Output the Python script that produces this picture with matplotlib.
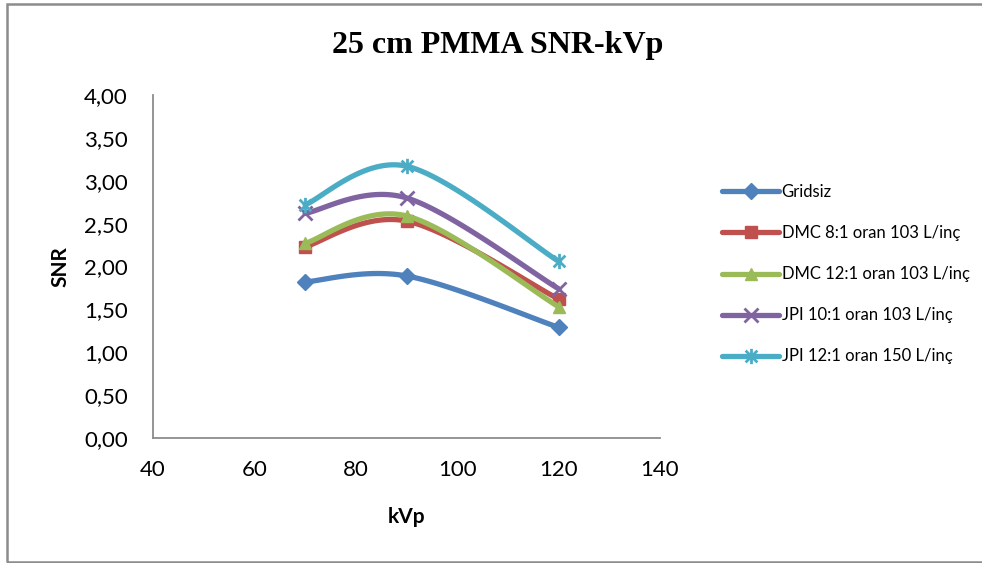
import numpy as np
import matplotlib
matplotlib.use("Agg")
import matplotlib.pyplot as plt
from matplotlib.path import Path
from matplotlib.patches import Rectangle

# Measurements: SNR against tube voltage for a 25 cm PMMA phantom
kvp = [70, 90, 120]
gridsiz = [1.82, 1.89, 1.29]
dmc_8 = [2.23, 2.53, 1.62]
dmc_12 = [2.27, 2.59, 1.53]
jpi_10 = [2.62, 2.80, 1.74]
jpi_12 = [2.72, 3.17, 2.06]

series_labels = ["Gridsiz", "DMC 8:1 oran 103 L/inç", "DMC 12:1 oran 103 L/inç",
                 "JPI 10:1 oran 103 L/inç", "JPI 12:1 oran 150 L/inç"]
x_ticks = [40, 60, 80, 100, 120, 140]
y_ticks = [0.0, 0.5, 1.0, 1.5, 2.0, 2.5, 3.0, 3.5, 4.0]

colors = ["#4F81BD", "#C0504D", "#9BBB59", "#8064A2", "#4BACC6"]

# asterisk marker: an X crossed by a vertical bar
star_path = Path([(-1, -1), (1, 1), (-1, 1), (1, -1), (0, -1.3), (0, 1.3)],
                 [Path.MOVETO, Path.LINETO, Path.MOVETO, Path.LINETO,
                  Path.MOVETO, Path.LINETO])
markers = ["D", "s", "^", "x", star_path]
msizes = [8, 9, 9, 10, 11]


def smooth(xs, ys, n=40):
    """Cardinal (Catmull-Rom) Bezier smoothing through every point."""
    pts = np.column_stack([xs, ys]).astype(float)
    ext = np.vstack([pts[0], pts, pts[-1]])
    out = []
    idx = [0]
    for i in range(len(pts) - 1):
        p0, p1, p2, p3 = ext[i], ext[i + 1], ext[i + 2], ext[i + 3]
        c1 = p1 + (p2 - p0) / 6.0
        c2 = p2 - (p3 - p1) / 6.0
        t = np.linspace(0, 1, n)[:, None]
        seg = ((1 - t) ** 3) * p1 + 3 * ((1 - t) ** 2) * t * c1 + 3 * (1 - t) * t ** 2 * c2 + t ** 3 * p2
        if i > 0:
            seg = seg[1:]
        out.append(seg)
        idx.append(idx[-1] + len(seg) - (0 if i > 0 else 1))
    curve = np.vstack(out)
    return curve[:, 0], curve[:, 1], idx


plt.rcParams["font.family"] = ["Lato", "DejaVu Sans"]

fig = plt.figure(figsize=(9.82, 5.63), dpi=100)
ax = fig.add_axes([153 / 982, 1 - 438 / 563, (660 - 153) / 982, (438 - 95) / 563])

all_series = [gridsiz, dmc_8, dmc_12, jpi_10, jpi_12]
for vals, lab, col, mk, ms in zip(all_series, series_labels, colors, markers, msizes):
    sx, sy, idx = smooth(kvp, vals)
    mew = 2.0 if mk in ("x",) or mk is star_path else 1.0
    ax.plot(sx, sy, color=col, lw=3.8, label=lab, marker=mk, markevery=idx,
            markersize=ms, markerfacecolor=col, markeredgecolor=col,
            markeredgewidth=mew, solid_capstyle="round", clip_on=False)

ax.set_xlim(40, 140)
ax.set_ylim(0, 4)
ax.set_xticks(x_ticks)
ax.set_yticks(y_ticks)
ax.set_yticklabels([f"{v:.2f}".replace(".", ",") for v in y_ticks])
ax.tick_params(length=0, labelsize=16)
ax.tick_params(axis="y", pad=18)
ax.tick_params(axis="x", pad=16)
for s in ("top", "right"):
    ax.spines[s].set_visible(False)
for s in ("left", "bottom"):
    ax.spines[s].set_color("#8c8c8c")
    ax.spines[s].set_linewidth(1.3)

ax.set_xlabel("kVp", fontsize=15, fontweight="bold", labelpad=19)
ax.set_ylabel("SNR", fontsize=15, fontweight="bold", labelpad=10)

fig.text(498 / 982, 1 - 45 / 563, "25 cm PMMA SNR-kVp", ha="center", va="center",
         fontsize=23, fontweight="bold", family="Liberation Serif")

handles, labels = ax.get_legend_handles_labels()
leg = fig.legend(handles, labels, loc="upper left",
                 bbox_to_anchor=(714 / 982, 1 - 176 / 563), frameon=False,
                 fontsize=12, numpoints=1, handlelength=3.4, handletextpad=0.15,
                 labelspacing=1.5, borderpad=0)

fig.patches.append(Rectangle((7 / 982, 1 / 563), 1.2, 1 - 5 / 563,
                             transform=fig.transFigure, fill=False,
                             edgecolor="#8c8c8c", lw=1.8))

fig.savefig("out.png", dpi=100)
